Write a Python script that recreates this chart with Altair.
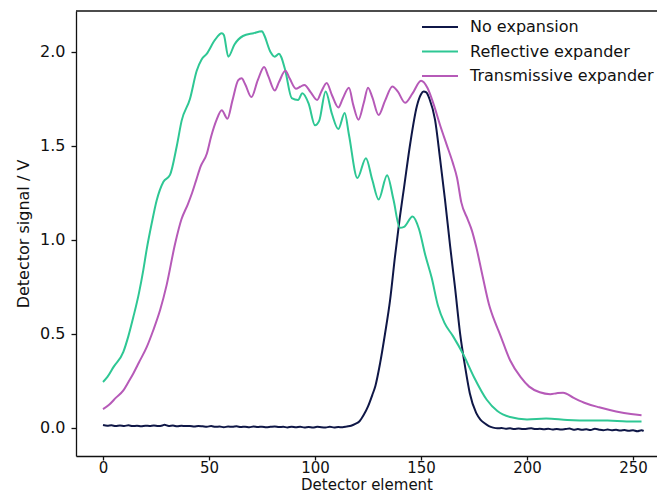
import altair as alt
import pandas as pd

# ---- data ----
series_names = ["No expansion", "Reflective expander", "Transmissive expander"]
series_colors = ["#0f1747", "#2ec794", "#b65ab8"]

none_x = [0, 2, 4, 6, 8, 10, 12, 14, 16, 18, 20, 22, 24, 26, 28, 29, 31, 33, 35, 37, 39, 41, 43, 45, 47, 49,
          51, 53, 55, 57, 59, 61, 63, 65, 67, 69, 71, 73, 75, 77, 79, 81, 83, 85, 87, 89, 91, 93, 95, 97, 99,
          101, 103, 105, 107, 109, 111, 113, 115, 117, 119, 121, 123, 125, 127, 128.5, 130.7, 133, 135.4,
          137.7, 140, 142, 145, 148, 150, 151.2, 152.5, 154, 156.6, 159, 161.3, 163.7, 166, 168.4, 170.8,
          173, 176, 178, 180, 182, 184, 186, 188, 190, 192, 194, 196, 198, 200, 202, 204, 206, 208, 210,
          212, 214, 216, 218, 220, 222, 224, 226, 228, 230, 232, 234, 236, 238, 240, 242, 244, 246, 248,
          250, 252, 254, 255]
none_y = [0.016, 0.012, 0.014, 0.010, 0.013, 0.011, 0.014, 0.010, 0.012, 0.009, 0.012, 0.011, 0.013, 0.010,
          0.013, 0.017, 0.011, 0.013, 0.009, 0.012, 0.010, 0.011, 0.008, 0.011, 0.009, 0.007, 0.010, 0.006,
          0.008, 0.004, 0.008, 0.006, 0.009, 0.005, 0.007, 0.004, 0.008, 0.005, 0.007, 0.004, 0.006, 0.008,
          0.005, 0.006, 0.003, 0.007, 0.004, 0.006, 0.003, 0.005, 0.002, 0.006, 0.004, 0.003, 0.006, 0.003,
          0.005, 0.004, 0.008, 0.012, 0.022, 0.036, 0.070, 0.115, 0.175, 0.225, 0.345, 0.500, 0.680, 0.910,
          1.120, 1.280, 1.520, 1.710, 1.775, 1.790, 1.785, 1.750, 1.640, 1.430, 1.215, 0.970, 0.750, 0.505,
          0.325, 0.185, 0.080, 0.045, 0.025, 0.010, 0.002, -0.002, 0.000, -0.004, -0.002, -0.005, -0.003,
          -0.006, -0.004, -0.002, -0.006, -0.004, -0.007, -0.004, -0.008, -0.005, -0.008, -0.006, -0.003,
          -0.009, -0.006, -0.010, -0.007, -0.011, -0.004, -0.009, -0.012, -0.008, -0.012, -0.010, -0.014,
          -0.011, -0.015, -0.012, -0.017, -0.012, -0.016]

refl_x = [0, 2, 5, 9.6, 12, 14.3, 17, 19, 20.6, 23, 25.3, 28.5, 31.6, 34.8, 37.1, 41, 44.2, 46.5, 48.9,
          52.8, 56, 57, 59.1, 62, 66, 71, 75, 76, 79, 81, 83, 84, 86, 89, 92, 94, 97, 100, 102, 105, 108,
          111, 114, 116, 120, 124, 127, 130, 134, 137, 140, 142, 146, 149, 152, 155, 158, 161, 165, 170,
          175, 181, 186, 192, 200, 209, 219, 230, 238, 247, 254]
refl_y = [0.245, 0.270, 0.325, 0.405, 0.490, 0.590, 0.720, 0.840, 0.950, 1.090, 1.210, 1.310, 1.346, 1.500,
          1.635, 1.750, 1.900, 1.960, 1.990, 2.064, 2.100, 2.090, 1.975, 2.040, 2.085, 2.100, 2.110, 2.090,
          2.000, 1.975, 1.990, 1.975, 1.900, 1.755, 1.745, 1.780, 1.725, 1.610, 1.635, 1.790, 1.670, 1.590,
          1.675, 1.560, 1.330, 1.435, 1.320, 1.215, 1.345, 1.215, 1.065, 1.070, 1.125, 1.060, 0.920, 0.800,
          0.650, 0.560, 0.490, 0.390, 0.270, 0.150, 0.090, 0.058, 0.045, 0.050, 0.043, 0.040, 0.040, 0.035,
          0.035]

trans_x = [0, 3, 6, 9.6, 12, 14.3, 17, 20.6, 23.7, 27, 30, 34, 37, 40, 42, 44, 46, 49, 51, 53.6, 56, 58.7,
           61, 63.8, 65.4, 67, 70, 73, 76, 78, 81, 83, 86, 88, 91, 93, 95, 98, 101, 103, 105.5, 108, 111,
           113, 116, 118, 120.5, 123, 125, 127, 130, 133, 136.5, 139, 142.5, 146, 150, 153, 156, 159, 162,
           165, 167, 169, 172, 174, 176, 179, 182, 185, 187, 192, 197, 201, 206, 211, 214, 217, 222, 228,
           234, 242, 249, 254]
trans_y = [0.100, 0.125, 0.160, 0.200, 0.245, 0.290, 0.350, 0.430, 0.520, 0.630, 0.760, 0.980, 1.110, 1.190,
           1.250, 1.320, 1.390, 1.460, 1.550, 1.640, 1.690, 1.645, 1.740, 1.850, 1.860, 1.830, 1.760, 1.850,
           1.920, 1.870, 1.795, 1.840, 1.900, 1.860, 1.805, 1.815, 1.825, 1.785, 1.745, 1.790, 1.835, 1.770,
           1.705, 1.750, 1.810, 1.720, 1.640, 1.730, 1.810, 1.760, 1.665, 1.740, 1.817, 1.790, 1.730, 1.780,
           1.847, 1.810, 1.720, 1.610, 1.510, 1.410, 1.330, 1.200, 1.110, 1.050, 0.965, 0.810, 0.660, 0.560,
           0.505, 0.360, 0.270, 0.220, 0.190, 0.180, 0.185, 0.188, 0.160, 0.130, 0.110, 0.088, 0.074, 0.068]

x_ticks = [0, 50, 100, 150, 200, 250]
y_ticks = [0.0, 0.5, 1.0, 1.5, 2.0]

rows = []
for name, xs, ys in zip(series_names, [none_x, refl_x, trans_x], [none_y, refl_y, trans_y]):
    for xv, yv in zip(xs, ys):
        rows.append({"element": xv, "signal": yv, "series": name})
df = pd.DataFrame(rows)

FONT = "DejaVu Sans"
W, H = 581, 445

lines = alt.Chart(df).mark_line(strokeWidth=2, interpolate="monotone").encode(
    x=alt.X("element:Q",
            scale=alt.Scale(domain=[-12.74, 261.3], nice=False, zero=False),
            axis=alt.Axis(values=x_ticks, title="Detector element", format="d",
                          tickSize=4, labelPadding=0, titlePadding=2.2,
                          labelFontSize=15, titleFontSize=15)),
    y=alt.Y("signal:Q",
            scale=alt.Scale(domain=[-0.149, 2.218], nice=False, zero=False),
            axis=alt.Axis(values=y_ticks, title="Detector signal / V", format=".1f",
                          tickSize=5, labelPadding=6, titlePadding=8)),
    color=alt.Color("series:N",
                    scale=alt.Scale(domain=series_names, range=series_colors),
                    legend=alt.Legend(title=None, orient="none", legendX=356, legendY=8,
                                      symbolType="M-2.57,0H2.57", symbolSize=196,
                                      symbolStrokeWidth=2,
                                      labelFontSize=16, labelFont=FONT, labelColor="#111",
                                      labelLimit=0, labelOffset=22, rowPadding=8.5, padding=0)),
)

top_spine = alt.Chart(pd.DataFrame({"k": [0]})).mark_rule(color="#111", strokeWidth=1.3).encode(
    x=alt.value(0), x2=alt.value(W), y=alt.value(0)
)

chart = alt.layer(lines, top_spine).properties(
    width=W, height=H,
    autosize=alt.AutoSizeParams(type="none"),
    padding={"left": 68, "top": 3, "right": 0, "bottom": 38},
).configure_view(stroke=None).configure_axis(
    grid=False,
    domainColor="#111", domainWidth=1.3,
    tickColor="#111", tickWidth=1.3,
    labelFont=FONT, labelFontSize=16, labelColor="#111",
    titleFont=FONT, titleFontSize=16, titleFontWeight="normal", titleColor="#111",
)

chart.save("out.html", embed_options={"renderer": "svg", "actions": False})
